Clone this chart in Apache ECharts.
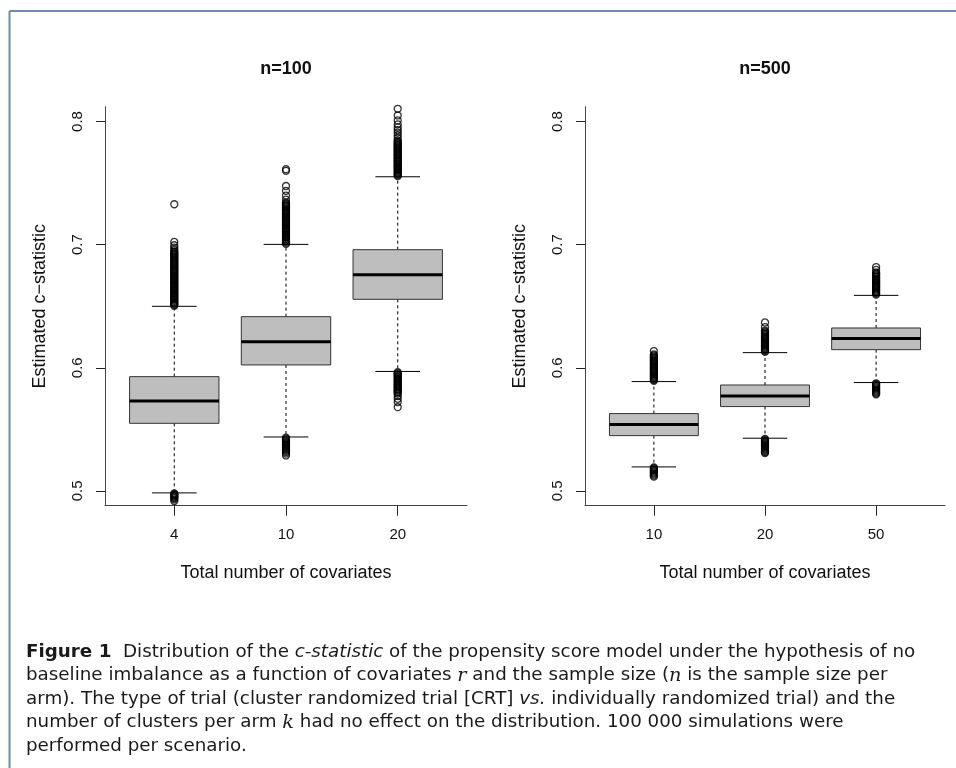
<!DOCTYPE html>
<html>
<head>
<meta charset="utf-8">
<script src="https://cdn.jsdelivr.net/npm/echarts@6/dist/echarts.min.js"></script>
<style>
html,body{margin:0;padding:0;background:#fff;}
#chart{width:956px;height:768px;}
</style>
</head>
<body>
<div id="chart"></div>
<script>
// ---------------- DATA ----------------
const panelTitles = ['n=100', 'n=500'];
const categories100 = ['4', '10', '20'];
const categories500 = ['10', '20', '50'];
const yTicks = [0.5, 0.6, 0.7, 0.8];
const xLabel = 'Total number of covariates';
const yLabel = 'Estimated c\u2212statistic';

// [lower whisker, Q1, median, Q3, upper whisker]
const box100_4  = [0.4984, 0.5549, 0.5730, 0.5928, 0.6499];
const box100_10 = [0.5438, 0.6023, 0.6212, 0.6415, 0.7002];
const box100_20 = [0.5970, 0.6556, 0.6756, 0.6959, 0.7551];
const box500_10 = [0.5195, 0.5449, 0.5539, 0.5628, 0.5888];
const box500_20 = [0.5428, 0.5685, 0.5771, 0.5860, 0.6123];
const box500_50 = [0.5880, 0.6147, 0.6237, 0.6323, 0.6588];

const out100_4 = [0.6504,0.6511,0.6519,0.6528,0.6535,0.6543,0.6552,0.6559,0.6567,0.6576,0.6583,0.6591,0.6600,0.6607,0.6615,0.6624,0.6631,0.6639,0.6648,0.6655,0.6663,0.6672,0.6679,0.6687,0.6696,0.6703,0.6711,0.6720,0.6727,0.6735,0.6744,0.6751,0.6759,0.6768,0.6775,0.6783,0.6792,0.6799,0.6807,0.6816,0.6823,0.6831,0.6840,0.6847,0.6855,0.6864,0.6871,0.6879,0.6888,0.6895,0.6903,0.6912,0.6919,0.6927,0.6936,0.6944,0.6958,0.6975,0.6995,0.7022,0.7328,
  0.4979,0.4973,0.4967,0.4961,0.4955,0.4948,0.4941,0.4932,0.4918];
const out100_10 = [0.7006,0.7014,0.7022,0.7031,0.7038,0.7046,0.7055,0.7062,0.7070,0.7079,0.7086,0.7094,0.7103,0.7110,0.7118,0.7127,0.7134,0.7142,0.7151,0.7158,0.7166,0.7175,0.7182,0.7190,0.7199,0.7206,0.7214,0.7223,0.7230,0.7238,0.7247,0.7254,0.7262,0.7271,0.7278,0.7286,0.7295,0.7302,0.7310,0.7319,0.7326,0.7334,0.7343,0.7365,0.7398,0.7437,0.7476,0.7600,0.7613,
  0.5432,0.5424,0.5416,0.5407,0.5399,0.5391,0.5383,0.5374,0.5366,0.5358,0.5350,0.5341,0.5333,0.5325,0.5316,0.5303,0.5288];
const out100_20 = [0.7556,0.7564,0.7572,0.7581,0.7588,0.7596,0.7605,0.7612,0.7620,0.7629,0.7636,0.7644,0.7653,0.7660,0.7668,0.7677,0.7684,0.7692,0.7701,0.7708,0.7716,0.7725,0.7732,0.7740,0.7749,0.7756,0.7764,0.7773,0.7780,0.7788,0.7797,0.7804,0.7812,0.7821,0.7828,0.7836,0.7845,0.7866,0.7888,0.7910,0.7930,0.7952,0.7977,0.8009,0.8049,0.8103,
  0.5964,0.5956,0.5948,0.5939,0.5931,0.5923,0.5915,0.5906,0.5898,0.5890,0.5882,0.5873,0.5865,0.5857,0.5849,0.5840,0.5832,0.5824,0.5816,0.5807,0.5799,0.5790,0.5770,0.5748,0.5722,0.5680];
const out500_10 = [0.5894,0.5902,0.5910,0.5919,0.5927,0.5935,0.5943,0.5952,0.5960,0.5968,0.5976,0.5985,0.5993,0.6001,0.6009,0.6018,0.6026,0.6034,0.6042,0.6051,0.6059,0.6067,0.6075,0.6084,0.6092,0.6100,0.6108,0.6136,
  0.5190,0.5182,0.5174,0.5165,0.5157,0.5149,0.5141,0.5132,0.5124,0.5116];
const out500_20 = [0.6129,0.6137,0.6145,0.6154,0.6162,0.6170,0.6178,0.6187,0.6195,0.6203,0.6211,0.6220,0.6228,0.6236,0.6244,0.6253,0.6261,0.6269,0.6277,0.6286,0.6294,0.6302,0.6330,0.6368,
  0.5422,0.5414,0.5406,0.5397,0.5389,0.5381,0.5373,0.5364,0.5356,0.5348,0.5340,0.5331,0.5323,0.5315,0.5308];
const out500_50 = [0.6594,0.6602,0.6610,0.6619,0.6627,0.6635,0.6643,0.6652,0.6660,0.6668,0.6676,0.6685,0.6693,0.6701,0.6709,0.6718,0.6726,0.6734,0.6742,0.6751,0.6759,0.6767,0.6775,0.6795,0.6818,
  0.5874,0.5866,0.5858,0.5849,0.5841,0.5833,0.5825,0.5816,0.5808,0.5800,0.5792,0.5785];

const captionLines = [
  '{b|Figure 1}  Distribution of the {i|c-statistic} of the propensity score model under the hypothesis of no',
  'baseline imbalance as a function of covariates {m|r} and the sample size ({m|n} is the sample size per',
  'arm). The type of trial (cluster randomized trial [CRT] {i|vs.} individually randomized trial) and the',
  'number of clusters per arm {m|k} had no effect on the distribution. 100 000 simulations were',
  'performed per scenario.'
];

// ---------------- BUILD ----------------
const BOX_WEX = 0.8, CAP_WEX = 0.4;
const FONT = 'Liberation Sans, Arial, sans-serif';
const CAP_FONT = 'DejaVu Sans';
const CAP_SIZE = 18.3;

function boxRows(boxes) { return boxes.map((b, i) => [i + 1].concat(b)); }
function outRows(outs) {
  const rows = [];
  outs.forEach((arr, i) => arr.forEach(v => rows.push([i + 1, v])));
  return rows;
}

function renderBox(params, api) {
  const x = api.value(0);
  const lo = api.value(1), q1 = api.value(2), med = api.value(3), q3 = api.value(4), hi = api.value(5);
  const bw = api.size([BOX_WEX, 0])[0];
  const cw = api.size([CAP_WEX, 0])[0];
  const pLo = api.coord([x, lo]), pQ1 = api.coord([x, q1]), pMed = api.coord([x, med]);
  const pQ3 = api.coord([x, q3]), pHi = api.coord([x, hi]);
  const cx = pMed[0];
  const dash = {stroke: '#000', lineWidth: 1, lineDash: [3, 3]};
  const solid = {stroke: '#000', lineWidth: 1};
  return {
    type: 'group',
    children: [
      {type: 'line', shape: {x1: cx, y1: pQ3[1], x2: cx, y2: pHi[1]}, style: dash},
      {type: 'line', shape: {x1: cx, y1: pQ1[1], x2: cx, y2: pLo[1]}, style: dash},
      {type: 'line', shape: {x1: cx - cw / 2, y1: pHi[1], x2: cx + cw / 2, y2: pHi[1]}, style: solid},
      {type: 'line', shape: {x1: cx - cw / 2, y1: pLo[1], x2: cx + cw / 2, y2: pLo[1]}, style: solid},
      {type: 'rect', shape: {x: cx - bw / 2, y: pQ3[1], width: bw, height: pQ1[1] - pQ3[1]},
        style: {fill: '#bebebe', stroke: '#333', lineWidth: 1}},
      {type: 'line', shape: {x1: cx - bw / 2, y1: pMed[1], x2: cx + bw / 2, y2: pMed[1]},
        style: {stroke: '#000', lineWidth: 3}}
    ]
  };
}

function makeX(idx, cats) {
  return {
    type: 'value', gridIndex: idx, min: 0.38, max: 3.62,
    axisLine: {show: true, onZero: false, lineStyle: {color: '#444', width: 1}},
    axisTick: {show: true, length: 10, customValues: [1, 2, 3], lineStyle: {color: '#222'}},
    axisLabel: {customValues: [1, 2, 3], formatter: v => cats[Math.round(v) - 1],
      fontSize: 15, fontFamily: FONT, color: '#111', margin: 22},
    splitLine: {show: false},
    name: xLabel, nameLocation: 'middle', nameGap: 58,
    nameTextStyle: {fontSize: 18, fontFamily: FONT, color: '#111'}
  };
}
function makeY(idx) {
  return {
    type: 'value', gridIndex: idx, min: 0.488, max: 0.812,
    axisLine: {show: true, onZero: false, lineStyle: {color: '#444', width: 1}},
    axisTick: {show: true, length: 9, customValues: yTicks, lineStyle: {color: '#222'}},
    axisLabel: {customValues: yTicks, rotate: 90, formatter: v => v.toFixed(1),
      fontSize: 15, fontFamily: FONT, color: '#111', margin: 20},
    splitLine: {show: false},
    name: yLabel, nameLocation: 'middle', nameGap: 56, nameRotate: 90,
    nameTextStyle: {fontSize: 18, fontFamily: FONT, color: '#111'}
  };
}

const outlierStyle = {color: 'rgba(0,0,0,0)', borderColor: '#000', borderWidth: 1.3};

const captionGraphics = captionLines.map((t, i) => ({
  type: 'text', x: 26, y: 652 + i * 23.5,
  style: {
    text: t, fontSize: CAP_SIZE, fontFamily: CAP_FONT, fill: '#1a1a1a',
    verticalAlign: 'middle', textVerticalAlign: 'middle',
    rich: {
      b: {fontWeight: 'bold', fontSize: CAP_SIZE, fontFamily: CAP_FONT},
      i: {fontStyle: 'italic', fontSize: CAP_SIZE, fontFamily: CAP_FONT},
      m: {fontStyle: 'italic', fontSize: CAP_SIZE + 1, fontFamily: 'DejaVu Serif'}
    }
  }
}));

const option = {
  animation: false,
  backgroundColor: '#fff',
  textStyle: {fontFamily: FONT},
  title: [
    {text: panelTitles[0], left: 286, top: 60, textAlign: 'center', padding: 0,
      textStyle: {fontSize: 18, fontWeight: 'bold', fontFamily: FONT, color: '#111'}},
    {text: panelTitles[1], left: 765, top: 60, textAlign: 'center', padding: 0,
      textStyle: {fontSize: 18, fontWeight: 'bold', fontFamily: FONT, color: '#111'}}
  ],
  grid: [
    {left: 105, top: 106.7, width: 362, height: 399},
    {left: 585, top: 106.7, width: 360, height: 399}
  ],
  xAxis: [makeX(0, categories100), makeX(1, categories500)],
  yAxis: [makeY(0), makeY(1)],
  series: [
    {type: 'custom', xAxisIndex: 0, yAxisIndex: 0, renderItem: renderBox,
      encode: {x: 0, y: [1, 2, 3, 4, 5]}, data: boxRows([box100_4, box100_10, box100_20]), z: 2},
    {type: 'custom', xAxisIndex: 1, yAxisIndex: 1, renderItem: renderBox,
      encode: {x: 0, y: [1, 2, 3, 4, 5]}, data: boxRows([box500_10, box500_20, box500_50]), z: 2},
    {type: 'scatter', xAxisIndex: 0, yAxisIndex: 0, symbol: 'circle', symbolSize: 7,
      itemStyle: outlierStyle, data: outRows([out100_4, out100_10, out100_20]), z: 3},
    {type: 'scatter', xAxisIndex: 1, yAxisIndex: 1, symbol: 'circle', symbolSize: 7,
      itemStyle: outlierStyle, data: outRows([out500_10, out500_20, out500_50]), z: 3}
  ],
  graphic: [
    {type: 'line', shape: {x1: 9.5, y1: 11, x2: 956, y2: 11}, style: {stroke: '#6f8ab2', lineWidth: 2}},
    {type: 'line', shape: {x1: 9.5, y1: 11, x2: 9.5, y2: 768}, style: {stroke: '#6f8ab2', lineWidth: 2}}
  ].concat(captionGraphics)
};

const chart = echarts.init(document.getElementById('chart'), null, {renderer: 'canvas'});
chart.setOption(option);
</script>
</body>
</html>
